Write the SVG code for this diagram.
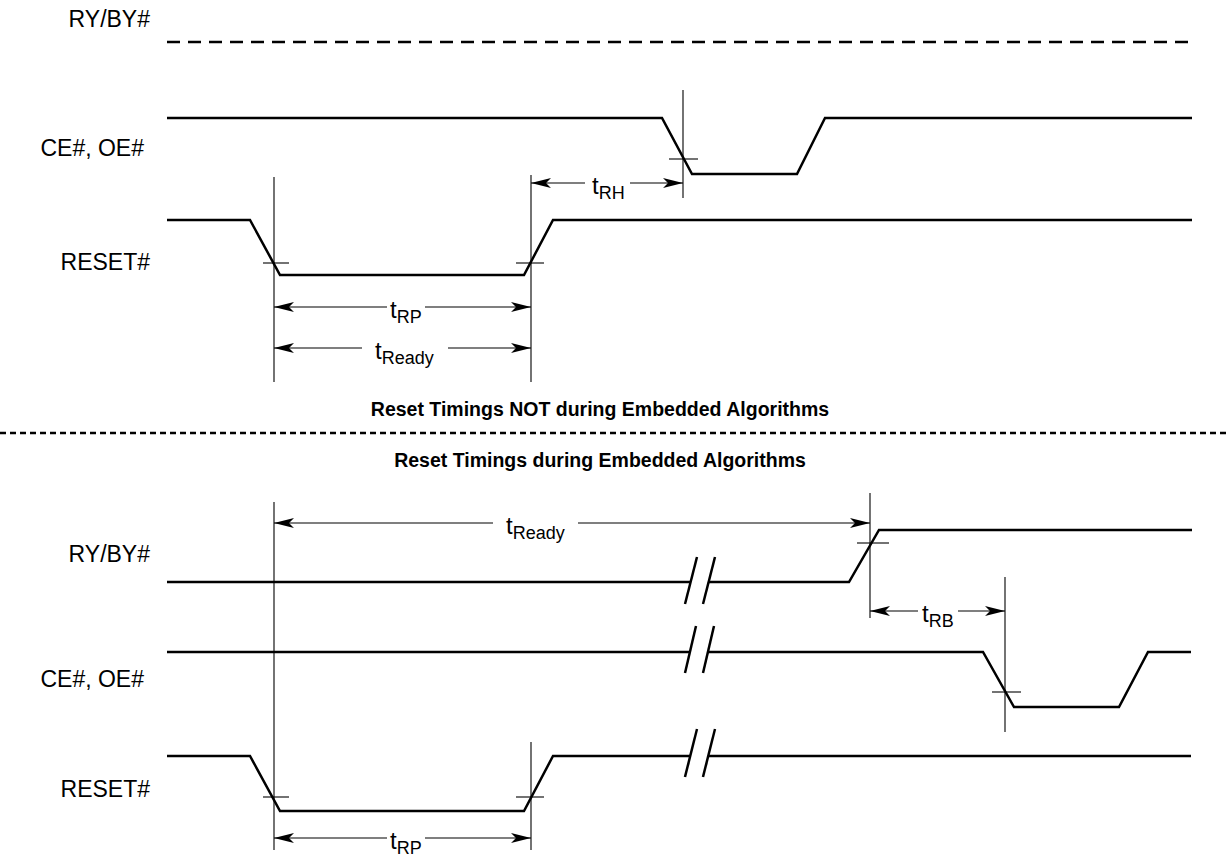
<svg xmlns="http://www.w3.org/2000/svg" width="1228" height="860" viewBox="0 0 1228 860">
<style>
.sig{fill:none;stroke:#000;stroke-width:2.5;stroke-linejoin:miter}
.ref{fill:none;stroke:#000;stroke-width:1.1}
.dim{fill:none;stroke:#000;stroke-width:1.2;marker-end:url(#ah)}
.lbl{font-family:"Liberation Sans",Arial,Helvetica,sans-serif;font-size:23px;fill:#000;text-anchor:end}
.tm{font-family:"Liberation Sans",Arial,Helvetica,sans-serif;font-size:24px;fill:#000}
.sub{font-size:18px}
.ttl{font-family:"Liberation Sans",Arial,Helvetica,sans-serif;font-size:19.5px;font-weight:bold;fill:#000;text-anchor:middle}
</style>
<defs>
<marker id="ah" viewBox="0 0 20 10" refX="20" refY="5" markerWidth="20" markerHeight="10" markerUnits="userSpaceOnUse" orient="auto">
<path d="M0,0 L20,5 L0,10 L5,5 Z" fill="#000"/>
</marker>
</defs>
<rect width="1228" height="860" fill="#fff"/>

<g id="labels">
<text class="lbl" x="150" y="27">RY/BY#</text>
<text class="lbl" x="144" y="156">CE#, OE#</text>
<text class="lbl" x="150" y="270">RESET#</text>
<text class="lbl" x="150" y="562">RY/BY#</text>
<text class="lbl" x="144" y="687">CE#, OE#</text>
<text class="lbl" x="150" y="797">RESET#</text>
</g>

<g id="titles">
<text class="ttl" x="600" y="416">Reset Timings NOT during Embedded Algorithms</text>
<line x1="0" y1="433" x2="1228" y2="433" stroke="#000" stroke-width="2.5" stroke-dasharray="6 4"/>
<text class="ttl" x="600" y="467">Reset Timings during Embedded Algorithms</text>
</g>

<g id="top-signals">
<line id="ry-top" x1="167" y1="42" x2="1192" y2="42" stroke="#000" stroke-width="2.5" stroke-dasharray="13 8"/>
<polyline id="ce-top" class="sig" points="167,118 662,118 692,174 797,174 825,118 1192,118"/>
<polyline id="reset-top" class="sig" points="167,220 250,220 280,275 524,275 553,220 1192,220"/>
</g>

<g id="bottom-signals">
<polyline id="ry-bot-a" class="sig" points="167,582 691,582"/>
<polyline id="ry-bot-b" class="sig" points="709,582 849,582 879,530 1192,530"/>
<line class="sig" x1="685" y1="604" x2="697" y2="557"/>
<line class="sig" x1="703" y1="604" x2="715" y2="557"/>
<polyline id="ce-bot-a" class="sig" points="167,652 690,652"/>
<polyline id="ce-bot-b" class="sig" points="708,652 983,652 1014,707 1119,707 1148,652 1191,652"/>
<line class="sig" x1="685" y1="673" x2="696" y2="626"/>
<line class="sig" x1="703" y1="673" x2="714" y2="626"/>
<polyline id="reset-bot-a" class="sig" points="167,756 250,756 280,811 524,811 553,756 690,756"/>
<polyline id="reset-bot-b" class="sig" points="708,756 1191,756"/>
<line class="sig" x1="685" y1="777" x2="697" y2="729"/>
<line class="sig" x1="703" y1="777" x2="715" y2="729"/>
</g>

<g id="reference-lines">
<line class="ref" x1="274" y1="177" x2="274" y2="382"/>
<line class="ref" x1="531" y1="175" x2="531" y2="382"/>
<line class="ref" x1="683" y1="90" x2="683" y2="198"/>
<line class="ref" x1="263" y1="263" x2="289" y2="263"/>
<line class="ref" x1="516" y1="263" x2="544" y2="263"/>
<line class="ref" x1="669" y1="159" x2="698" y2="159"/>
<line class="ref" x1="274" y1="502" x2="274" y2="850"/>
<line class="ref" x1="531" y1="742" x2="531" y2="850"/>
<line class="ref" x1="870" y1="493" x2="870" y2="618"/>
<line class="ref" x1="1005" y1="577" x2="1005" y2="732"/>
<line class="ref" x1="857" y1="543" x2="889" y2="543"/>
<line class="ref" x1="992" y1="692" x2="1021" y2="692"/>
<line class="ref" x1="263" y1="797" x2="289" y2="797"/>
<line class="ref" x1="516" y1="797" x2="544" y2="797"/>
</g>

<g id="connectors">
<line class="dim" x1="585" y1="183" x2="531" y2="183"/>
<line class="dim" x1="630" y1="183" x2="683" y2="183"/>
<line class="dim" x1="387" y1="307" x2="274" y2="307"/>
<line class="dim" x1="425" y1="307" x2="531" y2="307"/>
<line class="dim" x1="362" y1="348" x2="274" y2="348"/>
<line class="dim" x1="448" y1="348" x2="531" y2="348"/>
<line class="dim" x1="493" y1="523" x2="274" y2="523"/>
<line class="dim" x1="578" y1="523" x2="870" y2="523"/>
<line class="dim" x1="918" y1="611" x2="870" y2="611"/>
<line class="dim" x1="958" y1="611" x2="1005" y2="611"/>
<line class="dim" x1="387" y1="838" x2="274" y2="838"/>
<line class="dim" x1="425" y1="838" x2="531" y2="838"/>
</g>

<g id="timing-labels">
<text class="tm" x="592" y="194">t<tspan class="sub" dy="5">RH</tspan></text>
<text class="tm" x="390" y="318">t<tspan class="sub" dy="5">RP</tspan></text>
<text class="tm" x="375" y="359">t<tspan class="sub" dy="5">Ready</tspan></text>
<text class="tm" x="506" y="534">t<tspan class="sub" dy="5">Ready</tspan></text>
<text class="tm" x="922" y="622">t<tspan class="sub" dy="5">RB</tspan></text>
<text class="tm" x="390" y="849">t<tspan class="sub" dy="5">RP</tspan></text>
</g>
</svg>
